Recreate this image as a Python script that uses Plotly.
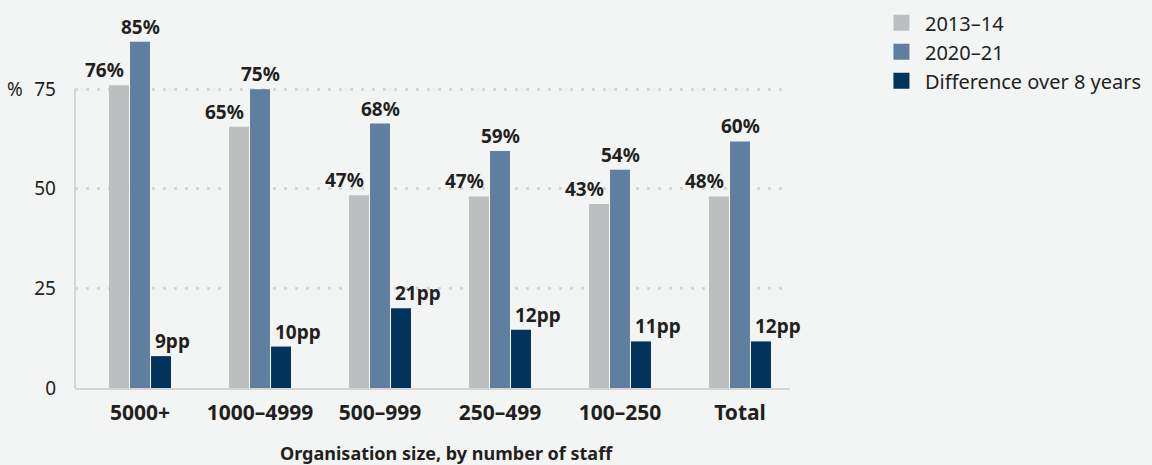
import plotly.graph_objects as go

categories = ["5000+", "1000–4999", "500–999", "250–499", "100–250", "Total"]
series_names = ["2013–14", "2020–21", "Difference over 8 years"]
vals_2013 = [76.0, 65.6, 48.4, 48.1, 46.2, 48.1]
vals_2020 = [86.9, 75.0, 66.4, 59.5, 54.8, 61.9]
vals_diff = [8.0, 10.4, 20.0, 14.6, 11.7, 11.7]
labels_2013 = ["76%", "65%", "47%", "47%", "43%", "48%"]
labels_2020 = ["85%", "75%", "68%", "59%", "54%", "60%"]
labels_diff = ["9pp", "10pp", "21pp", "12pp", "11pp", "12pp"]
y_ticks = [0, 25, 50, 75]
x_title = "Organisation size, by number of staff"

colors = ["#bdbec0", "#607e9f", "#02335b"]
bg = "#f3f5f4"
txt = "#231f20"
FONT = "Noto Sans"

fig = go.Figure()
for name, vals, col in zip(series_names, [vals_2013, vals_2020, vals_diff], colors):
    fig.add_trace(go.Bar(x=categories, y=vals, name=name, marker=dict(color=col, line=dict(width=0)),
                         showlegend=False, hoverinfo="x+y"))
# legend proxies with larger square swatches
for i, (name, col) in enumerate(zip(series_names, colors)):
    fig.add_trace(go.Scatter(x=[None], y=[None], mode="markers", name=name,
                             marker=dict(symbol="square", size=20, color=col, line=dict(width=0)),
                             legendgroup=f"g{i}", showlegend=True))

ann = []
lab_font = dict(family=FONT, size=19, color=txt, weight="bold")
for c, v, t in zip(categories, vals_2013, labels_2013):
    ann.append(dict(x=c, y=v, text=t, showarrow=False, xanchor="right", yanchor="bottom",
                    xshift=-14, yshift=0, font=lab_font))
for c, v, t in zip(categories, vals_2020, labels_2020):
    ann.append(dict(x=c, y=v, text=t, showarrow=False, xanchor="center", yanchor="bottom",
                    xshift=0, yshift=0, font=lab_font))
for c, v, t in zip(categories, vals_diff, labels_diff):
    ann.append(dict(x=c, y=v, text=t, showarrow=False, xanchor="left", yanchor="bottom",
                    xshift=13, yshift=0, font=lab_font))
ann.append(dict(x=-0.098, xref="paper", y=75, yref="y", text="%", showarrow=False,
                xanchor="left", yanchor="middle", font=dict(family=FONT, size=19, color=txt)))
ann.append(dict(x=0.519, xref="paper", y=-0.173, yref="paper", text=x_title, showarrow=False,
                xanchor="center", yanchor="middle",
                font=dict(family=FONT, size=18, color=txt, weight="bold")))

fig.update_layout(
    width=1152, height=465,
    margin=dict(l=75, r=362, t=3, b=77),
    paper_bgcolor=bg, plot_bgcolor=bg,
    barmode="group", bargap=0.475, bargroupgap=0.05,
    font=dict(family=FONT, color=txt),
    annotations=ann,
    showlegend=True,
    legend=dict(x=1.123, xanchor="left", y=1.018, yanchor="top", traceorder="grouped",
                tracegroupgap=0, itemwidth=37, font=dict(family=FONT, size=20, color=txt),
                bgcolor="rgba(0,0,0,0)", itemclick=False),
    shapes=[dict(type="line", xref="paper", x0=0, x1=0, yref="y", y0=0, y1=75,
                 line=dict(color="#d4d6d6", width=2), layer="below")],
)
fig.update_xaxes(
    range=[-0.5417, 5.4167], showgrid=False, showline=True, linecolor="#d4d6d6", linewidth=2,
    ticks="", ticklabelstandoff=5,
    tickfont=dict(family=FONT, size=21, color=txt, weight="bold"),
)
fig.update_yaxes(
    range=[0, 94.9], tickvals=y_ticks, ticktext=[str(v) for v in y_ticks],
    showgrid=True, gridcolor="#d6d8d8", gridwidth=3, griddash="3px,8px",
    zeroline=False, showline=False, ticks="", ticklabelstandoff=18,
    tickfont=dict(family=FONT, size=19, color=txt),
)
fig.write_html("out.html", config={"displayModeBar": False},
               post_script="document.body.style.margin='0';document.body.style.background='#f3f5f4';")
